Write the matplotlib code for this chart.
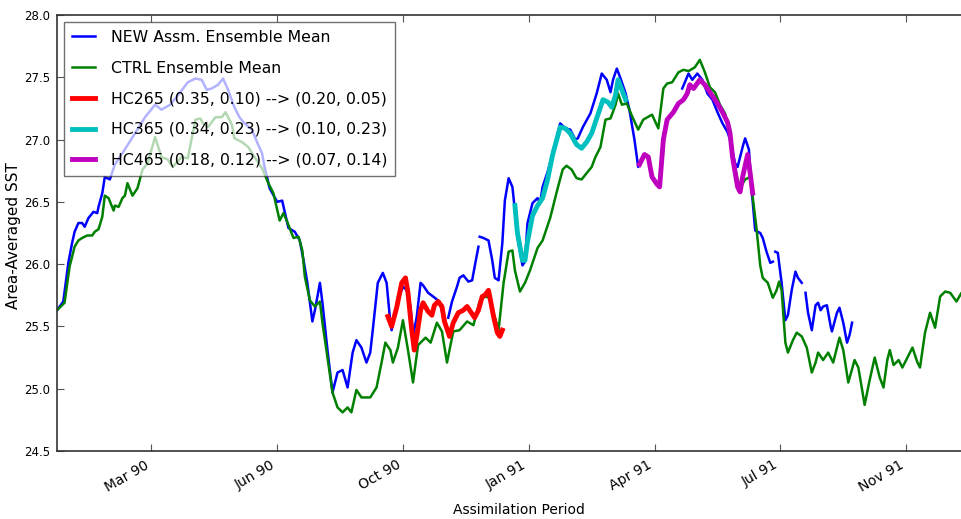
import numpy as np
import pandas as pd
import matplotlib
matplotlib.use("Agg")
import matplotlib.pyplot as plt
import matplotlib.dates as mdates

# Area-averaged SST, (days since 1990-01-01, value); nan = gap in the record
START = pd.Timestamp("1990-01-01")
nan = np.nan

ctrl_pts = [
    (0, 25.63), (6, 25.69), (10, 25.98), (14, 26.14), (17, 26.19), (20, 26.21),
    (24, 26.23), (28, 26.23), (30, 26.26), (33, 26.28), (36, 26.38), (38, 26.55),
    (41, 26.53), (45, 26.43), (46, 26.47), (49, 26.46), (52, 26.53), (54, 26.55),
    (56, 26.65), (60, 26.55), (64, 26.61), (68, 26.76), (72, 26.81), (78, 27.02),
    (83, 26.86), (88, 26.84), (92, 26.78), (99, 26.86), (104, 26.85), (110, 27.16),
    (114, 27.17), (116, 27.13), (120, 27.10), (126, 27.18), (131, 27.18), (134, 27.22),
    (139, 27.12), (141, 27.01), (147, 26.98), (152, 26.94), (157, 26.86), (163, 26.77),
    (168, 26.65), (172, 26.57), (177, 26.35), (180, 26.41), (183, 26.34), (188, 26.21),
    (192, 26.22), (195, 26.11), (197, 25.90), (201, 25.71), (205, 25.66), (209, 25.70),
    (211, 25.53), (215, 25.25), (219, 24.97), (223, 24.85), (227, 24.81), (231, 24.85),
    (234, 24.81), (238, 24.99), (242, 24.93), (249, 24.93), (254, 25.01), (258, 25.21),
    (261, 25.37), (265, 25.31), (267, 25.21), (271, 25.33), (275, 25.55), (279, 25.31),
    (283, 25.05), (287, 25.35), (293, 25.41), (297, 25.37), (302, 25.53), (306, 25.46),
    (310, 25.21), (315, 25.46), (320, 25.47), (326, 25.54), (331, 25.51), (336, 25.70),
    (340, 25.74), (344, 25.73), (347, 25.61), (351, 25.47), (355, 25.85), (359, 26.10),
    (362, 26.11), (364, 25.95), (368, 25.78), (372, 25.85), (376, 25.95), (382, 26.13),
    (386, 26.19), (392, 26.37), (398, 26.61), (402, 26.76), (405, 26.79), (409, 26.76),
    (413, 26.69), (417, 26.68), (421, 26.73), (425, 26.78), (428, 26.86), (432, 26.94),
    (436, 27.16), (440, 27.17), (444, 27.28), (446, 27.37), (449, 27.28), (453, 27.29),
    (457, 27.19), (462, 27.08), (466, 27.16), (473, 27.20), (478, 27.09), (482, 27.41),
    (485, 27.45), (489, 27.46), (494, 27.54), (498, 27.56), (502, 27.55), (507, 27.58),
    (511, 27.64), (515, 27.54), (519, 27.42), (523, 27.38), (527, 27.28), (531, 27.21),
    (535, 27.05), (537, 26.86), (541, 26.68), (543, 26.61), (547, 26.68), (551, 26.70),
    (553, 26.54), (556, 26.29), (559, 25.99), (561, 25.89), (565, 25.85), (569, 25.73),
    (572, 25.79), (574, 25.86), (576, 25.79), (579, 25.37), (581, 25.29), (585, 25.39),
    (588, 25.45), (592, 25.42), (596, 25.33), (600, 25.13), (603, 25.21), (605, 25.29),
    (609, 25.23), (613, 25.29), (617, 25.21), (622, 25.41), (625, 25.31), (629, 25.05),
    (634, 25.23), (637, 25.17), (642, 24.87), (646, 25.07), (650, 25.25), (654, 25.09),
    (657, 25.01), (660, 25.23), (662, 25.31), (665, 25.19), (669, 25.23), (672, 25.17),
    (676, 25.25), (680, 25.33), (684, 25.21), (686, 25.17), (690, 25.45), (694, 25.61),
    (698, 25.49), (702, 25.74), (706, 25.78), (710, 25.77), (715, 25.70), (719, 25.77),
    (724, 25.79),
]

new_pts = [
    (0, 25.63), (5, 25.70), (9, 26.01), (12, 26.17), (14, 26.26), (17, 26.33),
    (20, 26.33), (22, 26.30), (25, 26.37), (29, 26.42), (32, 26.41), (33, 26.46),
    (36, 26.57), (38, 26.70), (42, 26.68), (46, 26.80), (52, 26.89), (62, 27.05),
    (70, 27.18), (78, 27.28), (83, 27.24), (90, 27.28), (98, 27.38), (104, 27.46),
    (110, 27.49), (115, 27.48), (119, 27.40), (123, 27.41), (128, 27.44), (132, 27.49),
    (136, 27.40), (141, 27.26), (145, 27.18), (149, 27.13), (155, 27.08), (159, 26.98),
    (163, 26.89), (165, 26.78), (169, 26.61), (175, 26.50), (179, 26.51), (181, 26.42),
    (184, 26.29), (189, 26.26), (193, 26.19), (196, 26.03), (199, 25.85), (203, 25.54),
    (205, 25.63), (209, 25.85), (211, 25.69), (215, 25.31), (219, 24.97), (223, 25.13),
    (227, 25.15), (231, 25.01), (235, 25.29), (238, 25.39), (242, 25.33), (246, 25.21),
    (249, 25.29), (251, 25.47), (255, 25.85), (259, 25.93), (262, 25.85), (265, 25.53),
    (266, 25.47), (269, 25.63), (271, 25.71), (275, 25.82), (278, 25.79), (281, 25.66),
    (283, 25.42), (286, 25.58), (289, 25.85), (291, 25.83), (295, 25.77), (299, 25.74),
    (304, 25.70), (308, 25.55), (309, nan),
    (311, 25.57), (314, 25.70), (318, 25.82), (320, 25.89), (323, 25.91), (327, 25.86),
    (330, 25.87), (332, 25.98), (335, 26.14), (335.5, nan),
    (336, 26.22), (339, 26.21), (343, 26.19), (346, 26.03), (348, 25.89), (351, 25.87),
    (354, 26.17), (356, 26.51), (359, 26.69), (362, 26.62), (364, 26.43), (366, 26.22),
    (370, 25.99), (372, 26.02), (374, 26.33), (378, 26.49), (382, 26.53), (384, 26.49),
    (386, 26.62), (390, 26.74), (394, 26.89), (400, 27.13), (404, 27.09), (408, 27.08),
    (412, 27.00), (414, 27.01), (418, 27.10), (424, 27.21), (429, 27.37), (433, 27.53),
    (437, 27.48), (440, 27.38), (442, 27.48), (445, 27.57), (448, 27.49), (452, 27.37),
    (455, 27.24), (459, 27.00), (462, 26.78), (467, 26.88), (470, 26.86), (473, 26.70),
    (477, 26.64), (479, 26.62), (482, 27.00), (485, 27.16), (490, 27.22), (494, 27.29),
    (495, nan),
    (497, 27.41), (502, 27.53), (505, 27.48), (509, 27.53), (513, 27.48), (517, 27.37),
    (521, 27.32), (525, 27.22), (529, 27.13), (533, 27.06), (535, 27.00), (539, 26.81),
    (541, 26.78), (545, 26.94), (547, 27.01), (550, 26.92), (552, 26.62), (555, 26.27),
    (559, 26.25), (561, 26.21), (564, 26.10), (567, 26.01), (569, 26.02), (570, nan),
    (571, 26.10), (573, 26.09), (576, 25.85), (579, 25.55), (581, 25.59), (584, 25.79),
    (587, 25.94), (589, 25.89), (592, 25.85), (593, nan),
    (595, 25.77), (597, 25.61), (600, 25.47), (603, 25.67), (605, 25.69), (607, 25.63),
    (609, 25.66), (612, 25.67), (615, 25.50), (616, 25.46), (620, 25.61), (622, 25.65),
    (625, 25.53), (628, 25.37), (630, 25.43), (632, 25.53),
]

hc265_pts = [
    (263, 25.58), (266, 25.50), (270, 25.65), (274, 25.85), (277, 25.89), (279, 25.77),
    (282, 25.47), (284, 25.31), (286, 25.42), (289, 25.63), (291, 25.69), (295, 25.62),
    (298, 25.59), (300, 25.67), (303, 25.70), (306, 25.66), (308, 25.54), (312, 25.42),
    (315, 25.53), (319, 25.61), (323, 25.63), (326, 25.66), (328, 25.63), (332, 25.57),
    (335, 25.63), (338, 25.74), (340, 25.75), (343, 25.79), (344, 25.74), (347, 25.58),
    (350, 25.45), (352, 25.42), (354, 25.47),
]

hc365_pts = [
    (364, 26.47), (366, 26.25), (370, 26.03), (372, 26.03), (374, 26.18), (378, 26.39),
    (382, 26.47), (386, 26.53), (390, 26.68), (394, 26.88), (400, 27.10), (404, 27.09),
    (408, 27.05), (413, 26.96), (417, 26.93), (421, 26.98), (425, 27.05), (429, 27.17),
    (434, 27.32), (438, 27.30), (441, 27.26), (444, 27.36), (446, 27.48), (449, 27.40),
    (452, 27.32),
]

hc465_pts = [
    (463, 26.80), (467, 26.88), (470, 26.86), (473, 26.70), (477, 26.64), (479, 26.62),
    (482, 27.00), (485, 27.16), (490, 27.22), (494, 27.29), (498, 27.32), (501, 27.37),
    (503, 27.44), (506, 27.41), (511, 27.48), (515, 27.44), (519, 27.38), (525, 27.29),
    (529, 27.22), (533, 27.14), (535, 27.05), (537, 26.86), (541, 26.62), (543, 26.58),
    (545, 26.70), (549, 26.88), (551, 26.73), (553, 26.57),
]

series = [
    ("NEW Assm. Ensemble Mean", new_pts, "b", 1.8),
    ("CTRL Ensemble Mean", ctrl_pts, "g", 1.8),
    ("HC265 (0.35, 0.10) --> (0.20, 0.05)", hc265_pts, "r", 3.5),
    ("HC365 (0.34, 0.23) --> (0.10, 0.23)", hc365_pts, "c", 3.5),
    ("HC465 (0.18, 0.12) --> (0.07, 0.14)", hc465_pts, "m", 3.5),
]
tick_days = [75, 175, 275, 375, 475, 575, 675]


def to_xy(pts):
    d, v = zip(*pts)
    return START + pd.to_timedelta(np.array(d), unit="D"), np.array(v, float)


fig = plt.figure(figsize=(9.62, 5.19), dpi=100)
ax = fig.add_axes([57 / 962, 68 / 519, 923 / 962, 436 / 519])

for label, pts, color, lw in series:
    x, y = to_xy(pts)
    ax.plot(x, y, color=color, lw=lw, label=label, zorder=3 if lw > 2 else 2)

ax.set_xlim(START, START + pd.Timedelta(days=733.7))
ax.set_ylim(24.5, 28.0)
ax.set_yticks(np.arange(24.5, 28.01, 0.5))
ax.yaxis.set_major_formatter(plt.FormatStrFormatter("%.1f"))
ax.set_xticks([START + pd.Timedelta(days=d) for d in tick_days])
ax.xaxis.set_major_formatter(mdates.DateFormatter("%b %y"))
for lab in ax.get_xticklabels():
    lab.set_rotation(30)
    lab.set_ha("right")

ax.tick_params(direction="in", length=5, width=0.8, color="#555555",
               top=True, right=True)
ax.tick_params(axis="x", labelsize=10, pad=5)
ax.tick_params(axis="y", labelsize=8.5, pad=5)
for sp in ax.spines.values():
    sp.set_color("#333333")
    sp.set_linewidth(1.2)

ax.set_xlabel("Assimilation Period", fontsize=10, labelpad=6)
ax.set_ylabel("Area-Averaged SST", fontsize=11)
ax.yaxis.set_label_coords(-0.039, 0.494)

leg = ax.legend(loc="upper left", fontsize=11.3, handlelength=1.5,
                handletextpad=1.0, labelspacing=1.0, fancybox=False,
                framealpha=0.7, borderaxespad=0.45, borderpad=0.5)
leg.get_frame().set_edgecolor("#333333")
leg.get_frame().set_linewidth(1.0)

fig.savefig("out.png", dpi=100)
